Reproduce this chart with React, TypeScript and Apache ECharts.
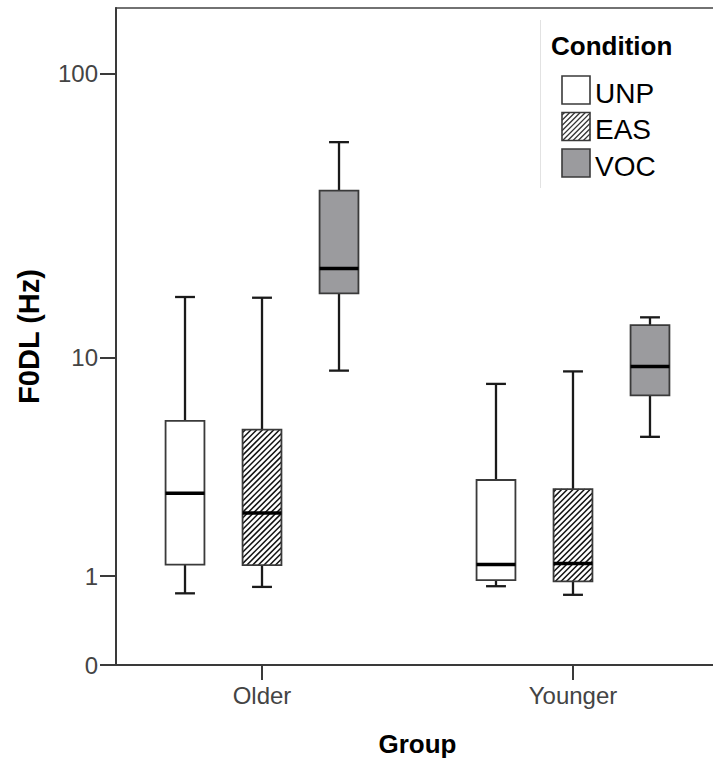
import React, { useEffect, useRef } from "react";
import * as echarts from "echarts";

// ---- data (in Hz) ----
const groups = ["Older", "Younger"];
const conditions = ["UNP", "EAS", "VOC"];
// each entry: [lower whisker, Q1, median, Q3, upper whisker], one per group
const unpValues = [
  [0.75, 1.19, 2.82, 5.73, 16.7],
  [0.85, 0.94, 1.19, 3.24, 7.98],
];
const easValues = [
  [0.84, 1.18, 2.28, 5.28, 16.6],
  [0.73, 0.92, 1.21, 2.95, 8.9],
];
const vocValues = [
  [8.96, 17.2, 21.1, 39.6, 58.3],
  [4.94, 7.21, 9.28, 13.2, 14.1],
];
const yTickValues = [0, 1, 10, 100];

const seriesValues = [unpValues, easValues, vocValues];
const fills = ["#ffffff", "#ffffff", "#9b9b9e"];
const hatched = [false, true, false];

const FONT = '"Liberation Sans", Arial, Helvetica, sans-serif';
// "safe log" scale used by the original chart: log10(v + 1)
const T = (v: number) => Math.log10(v + 1);

function hatchLines(x0: number, y0: number, x1: number, y1: number, step: number, stroke: string, lw: number) {
  const out: any[] = [];
  for (let c = x0 + y0 + step / 2; c < x1 + y1; c += step) {
    const sx = Math.max(x0, c - y1);
    const ex = Math.min(x1, c - y0);
    if (ex - sx > 0.3) {
      out.push({
        type: "line",
        shape: { x1: sx, y1: c - sx, x2: ex, y2: c - ex },
        style: { stroke, lineWidth: lw },
      });
    }
  }
  return out;
}

const offsets = [-0.2476, 0, 0.2476];

function makeRender(ci: number) {
  return (params: any, api: any) => {
    const gi = api.value(0);
    const vals = [1, 2, 3, 4, 5].map((i) => api.value(i));
    const unit = api.size([1, 0])[0];
    const cx = api.coord([gi, 0])[0] + offsets[ci] * unit;
    const P = (v: number) => api.coord([gi, v])[1];
    const [yLo, yQ1, yMd, yQ3, yHi] = vals.map(P);
    const bw = 0.125 * unit;
    const cw = 0.064 * unit;
    const x0 = cx - bw / 2;
    const x1 = cx + bw / 2;
    const wStyle = { stroke: "#1a1a1a", lineWidth: 2.3 };
    const children: any[] = [
      { type: "line", shape: { x1: cx, y1: yHi, x2: cx, y2: yQ3 }, style: wStyle },
      { type: "line", shape: { x1: cx, y1: yQ1, x2: cx, y2: yLo }, style: wStyle },
      { type: "line", shape: { x1: cx - cw / 2, y1: yHi, x2: cx + cw / 2, y2: yHi }, style: wStyle },
      { type: "line", shape: { x1: cx - cw / 2, y1: yLo, x2: cx + cw / 2, y2: yLo }, style: wStyle },
      { type: "rect", shape: { x: x0, y: yQ3, width: bw, height: yQ1 - yQ3 }, style: { fill: fills[ci] } },
    ];
    if (hatched[ci]) {
      children.push(...hatchLines(x0, yQ3, x1, yQ1, 5.7, "#111", 1.5));
    }
    children.push(
      {
        type: "rect",
        shape: { x: x0, y: yQ3, width: bw, height: yQ1 - yQ3 },
        style: { fill: "none", stroke: "#3a3a3a", lineWidth: 1.8 },
      },
      {
        type: "line",
        shape: { x1: x0, y1: yMd, x2: x1, y2: yMd },
        style: { stroke: "#000", lineWidth: 3.5 },
      }
    );
    return { type: "group", children };
  };
}

function buildLegend() {
  const els: any[] = [
    {
      type: "line",
      shape: { x1: 540.5, y1: 20, x2: 540.5, y2: 188 },
      style: { stroke: "#e2e2e2", lineWidth: 1 },
      silent: true,
    },
    {
      type: "text",
      x: 551,
      y: 46,
      style: {
        text: "Condition",
        font: `bold 26px ${FONT}`,
        fill: "#000",
        align: "left",
        verticalAlign: "middle",
        textAlign: "left",
        textVerticalAlign: "middle",
      },
    },
  ];
  conditions.forEach((c, i) => {
    const sx = 562;
    const sy = 76 + i * 36.5;
    const s = 28;
    els.push({ type: "rect", shape: { x: sx, y: sy, width: s, height: s }, style: { fill: fills[i] } });
    if (hatched[i]) els.push(...hatchLines(sx, sy, sx + s, sy + s, 5.2, "#333", 1.3));
    els.push({
      type: "rect",
      shape: { x: sx, y: sy, width: s, height: s },
      style: { fill: "none", stroke: "#3a3a3a", lineWidth: 1.6 },
    });
    els.push({
      type: "text",
      x: 595,
      y: sy + s / 2 + 3,
      style: {
        text: c,
        font: `28px ${FONT}`,
        fill: "#000",
        align: "left",
        verticalAlign: "middle",
        textAlign: "left",
        textVerticalAlign: "middle",
      },
    });
  });
  return els;
}

export default function App() {
  const ref = useRef<HTMLDivElement>(null);
  useEffect(() => {
    if (!ref.current) return;
    const chart = echarts.init(ref.current, undefined, { renderer: "svg" });
    const axisColor = "#3a3a3a";
    chart.setOption({
      animation: false,
      backgroundColor: "#ffffff",
      textStyle: { fontFamily: FONT },
      grid: {
        left: 116,
        top: 8,
        right: -6,
        bottom: 99,
        outerBoundsMode: "none",
        containLabel: false,
        show: true,
        borderColor: "#444",
        borderWidth: 1.5,
        backgroundColor: "transparent",
      },
      xAxis: {
        type: "value",
        min: -0.4695,
        max: 1.4695,
        name: "Group",
        nameLocation: "middle",
        nameGap: 66,
        nameTextStyle: { fontSize: 26, fontWeight: "bold", color: "#000", fontFamily: FONT },
        axisLine: { show: true, onZero: false, lineStyle: { color: axisColor, width: 2 } },
        axisTick: { show: true, length: 15, customValues: [0, 1], lineStyle: { color: axisColor, width: 2 } },
        axisLabel: {
          customValues: [0, 1],
          formatter: (v: number) => groups[Math.round(v)],
          fontSize: 24,
          color: "#444",
          margin: 18,
          fontFamily: FONT,
        },
        splitLine: { show: false },
      },
      yAxis: {
        type: "value",
        min: 0,
        max: 2.228,
        name: "F0DL (Hz)",
        nameLocation: "middle",
        nameGap: 73,
        nameTextStyle: { fontSize: 29, fontWeight: "bold", color: "#000", fontFamily: FONT },
        axisLine: { show: true, onZero: false, lineStyle: { color: axisColor, width: 2 } },
        axisTick: {
          show: true,
          length: 16,
          customValues: yTickValues.map(T),
          lineStyle: { color: axisColor, width: 2 },
        },
        axisLabel: {
          customValues: yTickValues.map(T),
          formatter: (v: number) => String(Math.round(Math.pow(10, v) - 1)),
          fontSize: 24,
          color: "#444",
          margin: 18,
          padding: [8, 0, 0, 0],
          fontFamily: FONT,
        },
        splitLine: { show: false },
      },
      series: conditions.map((c, ci) => ({
        type: "custom",
        name: c,
        renderItem: makeRender(ci),
        data: seriesValues[ci].map((v, gi) => [gi, ...v.map(T)]),
        encode: { x: 0, y: [1, 2, 3, 4, 5] },
        clip: false,
        z: 3,
      })),
      graphic: buildLegend(),
    });
    return () => chart.dispose();
  }, []);
  return (
    <div
      ref={ref}
      style={{ position: "fixed", left: 0, top: 0, width: 713, height: 764, background: "#fff" }}
    />
  );
}
